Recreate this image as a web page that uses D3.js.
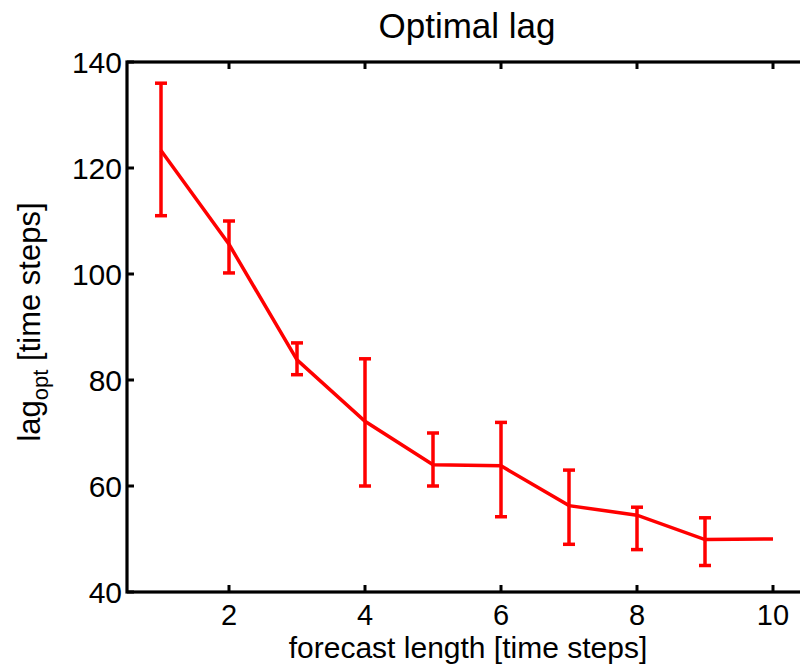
<!DOCTYPE html>
<html><head><meta charset="utf-8">
<script src="https://cdn.jsdelivr.net/npm/d3@7"></script>
<style>body{margin:0;background:#fff}svg{display:block}text{font-family:"Liberation Sans",Arial,Helvetica,sans-serif}</style>
</head><body>
<svg id="c" width="800" height="667"></svg>
<script>
const steps = [1,2,3,4,5,6,7,8,9,10];
const lagMean = [123.3,105.6,83.8,72.2,64,63.8,56.3,54.5,49.9,50];
const lagLow  = [111,100.2,81,60,60,54.2,49,48,45,null];
const lagHigh = [136,110,87,84,70,72,63,56,54,null];
const xTicks = [2,4,6,8,10];
const yTicks = [40,60,80,100,120,140];

const svg = d3.select("#c");
const L=127, R=807, T=62, B=592;
const x = d3.scaleLinear().domain([0.5,10.5]).range([L,R]);
const y = d3.scaleLinear().domain([40,140]).range([B,T]);

const data = steps.map((s,i)=>({s,m:lagMean[i],lo:lagLow[i],hi:lagHigh[i]}));

const g = svg.append("g");
const tl = 7;
xTicks.forEach(t=>{
  g.append("line").attr("x1",x(t)).attr("x2",x(t)).attr("y1",B).attr("y2",B-tl).attr("stroke","#000").attr("stroke-width",3);
  g.append("line").attr("x1",x(t)).attr("x2",x(t)).attr("y1",T).attr("y2",T+tl).attr("stroke","#000").attr("stroke-width",3);
  g.append("text").attr("x",x(t)).attr("y",625).attr("text-anchor","middle").attr("font-size",29).text(t);
});
yTicks.forEach(t=>{
  g.append("line").attr("x1",L).attr("x2",L+tl).attr("y1",y(t)).attr("y2",y(t)).attr("stroke","#000").attr("stroke-width",3);
  g.append("line").attr("x1",R).attr("x2",R-tl).attr("y1",y(t)).attr("y2",y(t)).attr("stroke","#000").attr("stroke-width",3);
  g.append("text").attr("x",L-5).attr("y",y(t)+11).attr("text-anchor","end").attr("font-size",30).text(t);
});
g.append("rect").attr("x",L).attr("y",T).attr("width",R-L).attr("height",B-T).attr("fill","none").attr("stroke","#000").attr("stroke-width",3.2);

svg.append("path").datum(data).attr("fill","none").attr("stroke","#ff0000").attr("stroke-width",3.5)
  .attr("d",d3.line().x(d=>x(d.s)).y(d=>y(d.m)));

const eb = data.filter(d=>d.lo!=null);
const cw = 6;
svg.selectAll(".eb").data(eb).enter().append("line").attr("x1",d=>x(d.s)).attr("x2",d=>x(d.s))
  .attr("y1",d=>y(d.lo)).attr("y2",d=>y(d.hi)).attr("stroke","#ff0000").attr("stroke-width",3.5);
svg.selectAll(".ct").data(eb).enter().append("line").attr("x1",d=>x(d.s)-cw).attr("x2",d=>x(d.s)+cw)
  .attr("y1",d=>y(d.hi)).attr("y2",d=>y(d.hi)).attr("stroke","#ff0000").attr("stroke-width",3.5);
svg.selectAll(".cb").data(eb).enter().append("line").attr("x1",d=>x(d.s)-cw).attr("x2",d=>x(d.s)+cw)
  .attr("y1",d=>y(d.lo)).attr("y2",d=>y(d.lo)).attr("stroke","#ff0000").attr("stroke-width",3.5);

svg.append("text").attr("x",467).attr("y",38).attr("text-anchor","middle").attr("font-size",35).text("Optimal lag");
svg.append("text").attr("x",468).attr("y",658).attr("text-anchor","middle").attr("font-size",30).text("forecast length [time steps]");
const yl = svg.append("text").attr("transform",`translate(40,322) rotate(-90)`).attr("text-anchor","middle").attr("font-size",31);
yl.append("tspan").text("lag");
yl.append("tspan").attr("font-size",22).attr("dy",8).text("opt");
yl.append("tspan").attr("dy",-8).text(" [time steps]");
</script>
</body></html>
